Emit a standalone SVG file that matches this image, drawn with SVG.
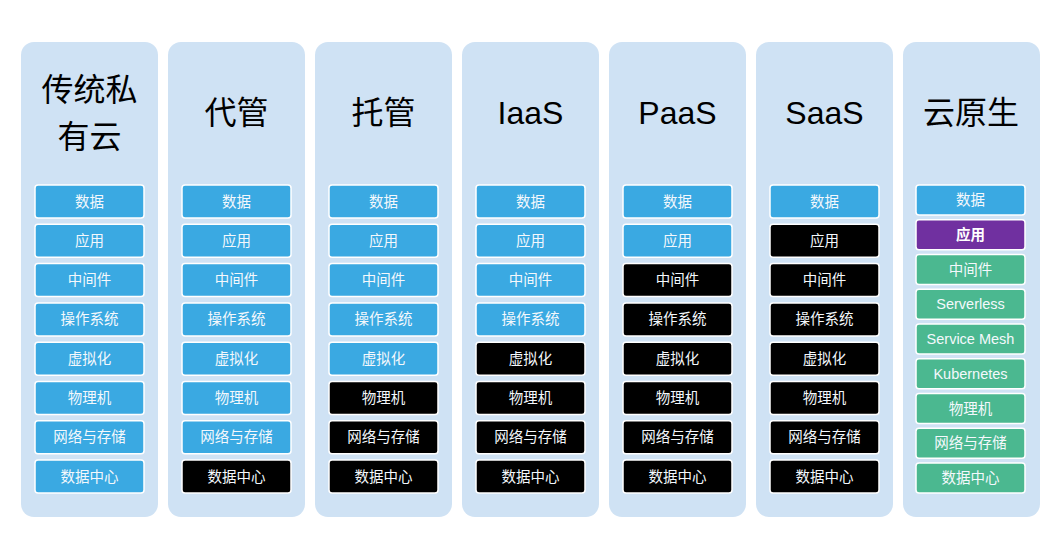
<svg xmlns="http://www.w3.org/2000/svg" width="1057" height="534" viewBox="0 0 1057 534">
  <style>
    .panel { fill: #cfe2f4; }
    .title { font-family: "Liberation Sans", "Noto Sans CJK SC", sans-serif; font-size: 32px; fill: #000; text-anchor: middle; }
    .box { stroke: #ffffff; stroke-width: 1.5; }
    .blue { fill: #3aa9e2; }
    .black { fill: #000000; }
    .green { fill: #4bb890; }
    .purple { fill: #7030a0; }
    .lbl { font-family: "Liberation Sans", "Noto Sans CJK SC", sans-serif; font-size: 14.5px; fill: #f4f8fc; text-anchor: middle; dominant-baseline: central; }
    .bold { font-weight: bold; fill: #ffffff; }
  </style>
  <rect width="1057" height="534" fill="#ffffff"/>

  <!-- traditional private cloud -->
  <g id="col-private">
    <rect class="panel" x="21" y="42" width="137" height="475" rx="13"/>
    <text class="title" x="89.5" y="101">传统私</text>
    <text class="title" x="89.5" y="148">有云</text>
    <rect class="box blue" x="35" y="185" width="109" height="33" rx="3"/><text class="lbl" x="89.5" y="201.5">数据</text>
    <rect class="box blue" x="35" y="224.3" width="109" height="33" rx="3"/><text class="lbl" x="89.5" y="240.8">应用</text>
    <rect class="box blue" x="35" y="263.6" width="109" height="33" rx="3"/><text class="lbl" x="89.5" y="280.1">中间件</text>
    <rect class="box blue" x="35" y="302.9" width="109" height="33" rx="3"/><text class="lbl" x="89.5" y="319.4">操作系统</text>
    <rect class="box blue" x="35" y="342.2" width="109" height="33" rx="3"/><text class="lbl" x="89.5" y="358.7">虚拟化</text>
    <rect class="box blue" x="35" y="381.5" width="109" height="33" rx="3"/><text class="lbl" x="89.5" y="398">物理机</text>
    <rect class="box blue" x="35" y="420.8" width="109" height="33" rx="3"/><text class="lbl" x="89.5" y="437.3">网络与存储</text>
    <rect class="box blue" x="35" y="460.1" width="109" height="33" rx="3"/><text class="lbl" x="89.5" y="476.6">数据中心</text>
  </g>

  <!-- managed -->
  <g id="col-managed">
    <rect class="panel" x="168" y="42" width="137" height="475" rx="13"/>
    <text class="title" x="236.5" y="124">代管</text>
    <rect class="box blue" x="182" y="185" width="109" height="33" rx="3"/><text class="lbl" x="236.5" y="201.5">数据</text>
    <rect class="box blue" x="182" y="224.3" width="109" height="33" rx="3"/><text class="lbl" x="236.5" y="240.8">应用</text>
    <rect class="box blue" x="182" y="263.6" width="109" height="33" rx="3"/><text class="lbl" x="236.5" y="280.1">中间件</text>
    <rect class="box blue" x="182" y="302.9" width="109" height="33" rx="3"/><text class="lbl" x="236.5" y="319.4">操作系统</text>
    <rect class="box blue" x="182" y="342.2" width="109" height="33" rx="3"/><text class="lbl" x="236.5" y="358.7">虚拟化</text>
    <rect class="box blue" x="182" y="381.5" width="109" height="33" rx="3"/><text class="lbl" x="236.5" y="398">物理机</text>
    <rect class="box blue" x="182" y="420.8" width="109" height="33" rx="3"/><text class="lbl" x="236.5" y="437.3">网络与存储</text>
    <rect class="box black" x="182" y="460.1" width="109" height="33" rx="3"/><text class="lbl" x="236.5" y="476.6">数据中心</text>
  </g>

  <!-- hosted -->
  <g id="col-hosted">
    <rect class="panel" x="315" y="42" width="137" height="475" rx="13"/>
    <text class="title" x="383.5" y="124">托管</text>
    <rect class="box blue" x="329" y="185" width="109" height="33" rx="3"/><text class="lbl" x="383.5" y="201.5">数据</text>
    <rect class="box blue" x="329" y="224.3" width="109" height="33" rx="3"/><text class="lbl" x="383.5" y="240.8">应用</text>
    <rect class="box blue" x="329" y="263.6" width="109" height="33" rx="3"/><text class="lbl" x="383.5" y="280.1">中间件</text>
    <rect class="box blue" x="329" y="302.9" width="109" height="33" rx="3"/><text class="lbl" x="383.5" y="319.4">操作系统</text>
    <rect class="box blue" x="329" y="342.2" width="109" height="33" rx="3"/><text class="lbl" x="383.5" y="358.7">虚拟化</text>
    <rect class="box black" x="329" y="381.5" width="109" height="33" rx="3"/><text class="lbl" x="383.5" y="398">物理机</text>
    <rect class="box black" x="329" y="420.8" width="109" height="33" rx="3"/><text class="lbl" x="383.5" y="437.3">网络与存储</text>
    <rect class="box black" x="329" y="460.1" width="109" height="33" rx="3"/><text class="lbl" x="383.5" y="476.6">数据中心</text>
  </g>

  <!-- IaaS -->
  <g id="col-iaas">
    <rect class="panel" x="462" y="42" width="137" height="475" rx="13"/>
    <text class="title" x="530.5" y="124">IaaS</text>
    <rect class="box blue" x="476" y="185" width="109" height="33" rx="3"/><text class="lbl" x="530.5" y="201.5">数据</text>
    <rect class="box blue" x="476" y="224.3" width="109" height="33" rx="3"/><text class="lbl" x="530.5" y="240.8">应用</text>
    <rect class="box blue" x="476" y="263.6" width="109" height="33" rx="3"/><text class="lbl" x="530.5" y="280.1">中间件</text>
    <rect class="box blue" x="476" y="302.9" width="109" height="33" rx="3"/><text class="lbl" x="530.5" y="319.4">操作系统</text>
    <rect class="box black" x="476" y="342.2" width="109" height="33" rx="3"/><text class="lbl" x="530.5" y="358.7">虚拟化</text>
    <rect class="box black" x="476" y="381.5" width="109" height="33" rx="3"/><text class="lbl" x="530.5" y="398">物理机</text>
    <rect class="box black" x="476" y="420.8" width="109" height="33" rx="3"/><text class="lbl" x="530.5" y="437.3">网络与存储</text>
    <rect class="box black" x="476" y="460.1" width="109" height="33" rx="3"/><text class="lbl" x="530.5" y="476.6">数据中心</text>
  </g>

  <!-- PaaS -->
  <g id="col-paas">
    <rect class="panel" x="609" y="42" width="137" height="475" rx="13"/>
    <text class="title" x="677.5" y="124">PaaS</text>
    <rect class="box blue" x="623" y="185" width="109" height="33" rx="3"/><text class="lbl" x="677.5" y="201.5">数据</text>
    <rect class="box blue" x="623" y="224.3" width="109" height="33" rx="3"/><text class="lbl" x="677.5" y="240.8">应用</text>
    <rect class="box black" x="623" y="263.6" width="109" height="33" rx="3"/><text class="lbl" x="677.5" y="280.1">中间件</text>
    <rect class="box black" x="623" y="302.9" width="109" height="33" rx="3"/><text class="lbl" x="677.5" y="319.4">操作系统</text>
    <rect class="box black" x="623" y="342.2" width="109" height="33" rx="3"/><text class="lbl" x="677.5" y="358.7">虚拟化</text>
    <rect class="box black" x="623" y="381.5" width="109" height="33" rx="3"/><text class="lbl" x="677.5" y="398">物理机</text>
    <rect class="box black" x="623" y="420.8" width="109" height="33" rx="3"/><text class="lbl" x="677.5" y="437.3">网络与存储</text>
    <rect class="box black" x="623" y="460.1" width="109" height="33" rx="3"/><text class="lbl" x="677.5" y="476.6">数据中心</text>
  </g>

  <!-- SaaS -->
  <g id="col-saas">
    <rect class="panel" x="756" y="42" width="137" height="475" rx="13"/>
    <text class="title" x="824.5" y="124">SaaS</text>
    <rect class="box blue" x="770" y="185" width="109" height="33" rx="3"/><text class="lbl" x="824.5" y="201.5">数据</text>
    <rect class="box black" x="770" y="224.3" width="109" height="33" rx="3"/><text class="lbl" x="824.5" y="240.8">应用</text>
    <rect class="box black" x="770" y="263.6" width="109" height="33" rx="3"/><text class="lbl" x="824.5" y="280.1">中间件</text>
    <rect class="box black" x="770" y="302.9" width="109" height="33" rx="3"/><text class="lbl" x="824.5" y="319.4">操作系统</text>
    <rect class="box black" x="770" y="342.2" width="109" height="33" rx="3"/><text class="lbl" x="824.5" y="358.7">虚拟化</text>
    <rect class="box black" x="770" y="381.5" width="109" height="33" rx="3"/><text class="lbl" x="824.5" y="398">物理机</text>
    <rect class="box black" x="770" y="420.8" width="109" height="33" rx="3"/><text class="lbl" x="824.5" y="437.3">网络与存储</text>
    <rect class="box black" x="770" y="460.1" width="109" height="33" rx="3"/><text class="lbl" x="824.5" y="476.6">数据中心</text>
  </g>

  <!-- cloud native -->
  <g id="col-cloud-native">
    <rect class="panel" x="903" y="42" width="137" height="475" rx="13"/>
    <text class="title" x="971" y="124">云原生</text>
    <rect class="box blue" x="916" y="185" width="109" height="30" rx="3"/><text class="lbl" x="970.5" y="200">数据</text>
    <rect class="box purple" x="916" y="219.8" width="109" height="30" rx="3"/><text class="lbl bold" x="970.5" y="234.8">应用</text>
    <rect class="box green" x="916" y="254.5" width="109" height="30" rx="3"/><text class="lbl" x="970.5" y="269.5">中间件</text>
    <rect class="box green" x="916" y="289.3" width="109" height="30" rx="3"/><text class="lbl" x="970.5" y="304.3">Serverless</text>
    <rect class="box green" x="916" y="324" width="109" height="30" rx="3"/><text class="lbl" x="970.5" y="339">Service Mesh</text>
    <rect class="box green" x="916" y="358.8" width="109" height="30" rx="3"/><text class="lbl" x="970.5" y="373.8">Kubernetes</text>
    <rect class="box green" x="916" y="393.5" width="109" height="30" rx="3"/><text class="lbl" x="970.5" y="408.5">物理机</text>
    <rect class="box green" x="916" y="428.3" width="109" height="30" rx="3"/><text class="lbl" x="970.5" y="443.3">网络与存储</text>
    <rect class="box green" x="916" y="463" width="109" height="30" rx="3"/><text class="lbl" x="970.5" y="478">数据中心</text>
  </g>
</svg>
